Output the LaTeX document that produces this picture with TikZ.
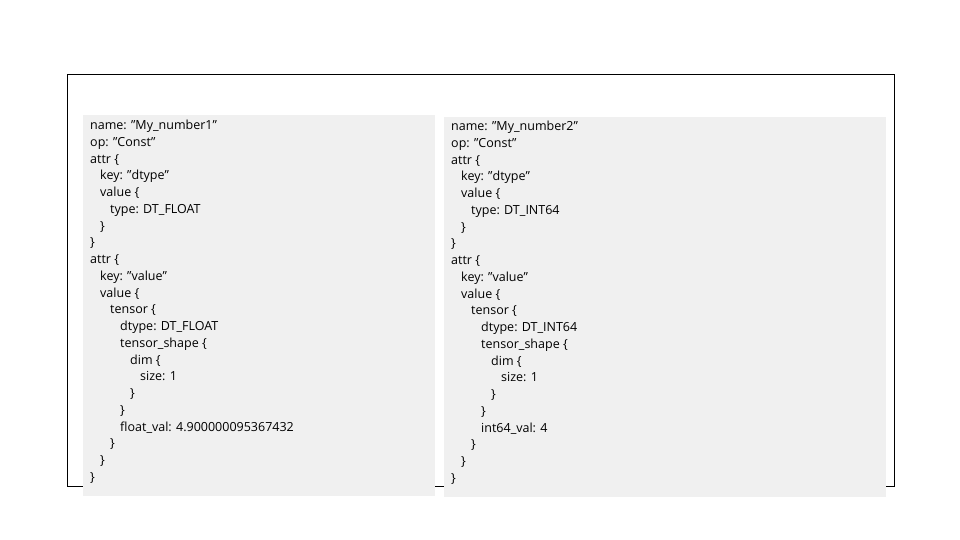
\documentclass[tikz,border=0pt]{standalone}
\usepackage{fontspec}
\setmainfont{Open Sans}
\begin{document}
\begin{tikzpicture}[x=1pt,y=-1pt,
  panel/.style={fill=gray!12,draw=none},
  code/.style={anchor=north west,inner sep=0,align=left,font=\fontsize{12.5}{16.75}\selectfont}]
\useasboundingbox (0,0) rectangle (960,540);
\newcommand{\ind}[1]{\hspace*{#1\dimexpr10pt\relax}}
\draw[line width=0.9pt] (67,74) rectangle (894,486);
\fill[panel] (83,115) rectangle (435,496);
\fill[panel] (444,117) rectangle (886,497);
\node[code] (left) at (90,120) {name: "My\_number1"\\op: "Const"\\attr \{\\\ind{1}key: "dtype"\\\ind{1}value \{\\\ind{2}type: DT\_FLOAT\\\ind{1}\}\\\}\\attr \{\\\ind{1}key: "value"\\\ind{1}value \{\\\ind{2}tensor \{\\\ind{3}dtype: DT\_FLOAT\\\ind{3}tensor\_shape \{\\\ind{4}dim \{\\\ind{5}size: 1\\\ind{4}\}\\\ind{3}\}\\\ind{3}float\_val: 4.900000095367432\\\ind{2}\}\\\ind{1}\}\\\}};
\node[code] (right) at (451,121) {name: "My\_number2"\\op: "Const"\\attr \{\\\ind{1}key: "dtype"\\\ind{1}value \{\\\ind{2}type: DT\_INT64\\\ind{1}\}\\\}\\attr \{\\\ind{1}key: "value"\\\ind{1}value \{\\\ind{2}tensor \{\\\ind{3}dtype: DT\_INT64\\\ind{3}tensor\_shape \{\\\ind{4}dim \{\\\ind{5}size: 1\\\ind{4}\}\\\ind{3}\}\\\ind{3}int64\_val: 4\\\ind{2}\}\\\ind{1}\}\\\}};
\end{tikzpicture}
\end{document}
